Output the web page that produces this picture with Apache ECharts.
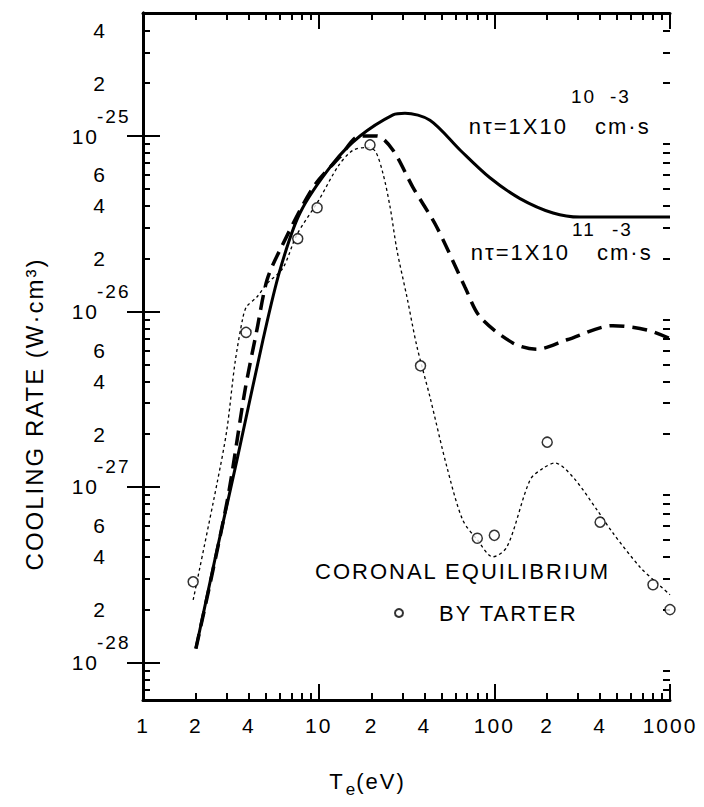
<!DOCTYPE html>
<html>
<head>
<meta charset="utf-8">
<script src="https://cdn.jsdelivr.net/npm/echarts@6/dist/echarts.min.js"></script>
<style>
  html, body { margin: 0; padding: 0; background: #fff; }
  #chart { width: 704px; height: 807px; }
  /* the scanned figure uses widely spaced lettering */
  #chart text { letter-spacing: 2px; }
</style>
</head>
<body>
<div id="chart"></div>
<script>
// cooling rate vs Te (eV, W·cm^3)
var solidTe   = [2, 2.64, 3.43, 4.82, 6.02, 7.83, 12.1, 17.2, 26.5, 31, 43, 64, 94, 140, 216, 307, 1000];
var solidRate = [1.2e-28, 4.4e-28, 1.43e-27, 6.9e-27, 1.72e-26, 3.64e-26, 7.0e-26, 1.0e-25, 1.32e-25, 1.35e-25,
                 1.23e-25, 8.3e-26, 5.8e-26, 4.4e-26, 3.64e-26, 3.45e-26, 3.45e-26];

var dashTe   = [2, 3.0, 3.81, 4.45, 5.08, 6.02, 9.3, 13.2, 17.2, 21.4, 26.5, 34.4, 47, 68, 83, 128, 175, 259, 473, 738, 1000];
var dashRate = [1.2e-28, 8.1e-28, 3.57e-27, 7.85e-27, 1.51e-26, 2.24e-26, 5.1e-26, 7.6e-26, 1.0e-25, 1.0e-25,
                8.3e-26, 5.1e-26, 3.03e-26, 1.38e-26, 9.3e-27, 6.6e-27, 6.1e-27, 6.9e-27, 8.3e-27, 7.85e-27, 7.0e-27];

var dotTe   = [1.93, 2.64, 3.0, 3.34, 3.71, 3.9, 4.45, 5.08, 6.26, 7.5, 10, 13, 15.7, 18.9, 21, 23.2, 25.5, 27.9,
               31.8, 36.3, 43, 53.7, 66, 80, 98, 118, 160, 190, 221, 280, 384, 473, 674, 841, 1000];
var dotRate = [2.27e-28, 1.05e-27, 2.11e-27, 5.1e-27, 9.3e-27, 1.07e-26, 1.21e-26, 1.44e-26, 1.77e-26, 2.73e-26,
               4.3e-26, 6.8e-26, 8.3e-26, 8.6e-26, 8.2e-26, 6.15e-26, 3.94e-26, 2.24e-26, 1.21e-26, 6.28e-27,
               3.26e-27, 1.3e-27, 6.5e-28, 5.0e-28, 4.0e-28, 4.55e-28, 1.1e-27, 1.28e-27, 1.37e-27, 1.14e-27,
               7.4e-28, 5.47e-28, 3.5e-28, 2.84e-28, 2.43e-28];

var tarterTe   = [1.93, 3.86, 7.6, 9.8, 19.6, 38, 80, 100, 200, 400, 800, 1000];
var tarterRate = [2.88e-28, 7.6e-27, 2.6e-26, 3.9e-26, 8.9e-26, 4.9e-27, 5.1e-28, 5.3e-28, 1.8e-27, 6.3e-28, 2.77e-28, 2.0e-28];

// tick labels
var xLabelValues = [1, 2, 4, 10, 20, 40, 100, 200, 400, 1000];
var xLabelTexts  = ['1', '2', '4', '10', '2', '4', '100', '2', '4', '1000'];
var yLabelValues = [1e-28, 2e-28, 4e-28, 6e-28, 1e-27, 2e-27, 4e-27, 6e-27, 1e-26, 2e-26, 4e-26, 6e-26, 1e-25, 2e-25, 4e-25];
var yLabelTexts  = ['10', '2', '4', '6', '10', '2', '4', '6', '10', '2', '4', '6', '10', '2', '4'];
var yExpValues   = [1e-28, 1e-27, 1e-26, 1e-25];
var yExpTexts    = ['-28', '-27', '-26', '-25'];

var FONT = '"Liberation Sans", Arial, sans-serif';
var xMin = 0, xMax = 3;              // log10(Te), 1 .. 1000 eV
var yMin = -28.214, yMax = -24.299;  // log10(rate)

function toLog(xs, ys) {
    return xs.map(function (x, i) { return [Math.log10(x), Math.log10(ys[i])]; });
}

// log positions of 10^n (major) or k*10^n, k=2..9 (minor) inside [lo, hi]
function logTicks(nFrom, nTo, minor, lo, hi) {
    var out = [];
    for (var n = nFrom; n <= nTo; n++) {
        if (!minor) { out.push(n); continue; }
        for (var k = 2; k <= 9; k++) out.push(n + Math.log10(k));
    }
    return out.filter(function (v) { return v > lo + 0.005 && v < hi - 0.01; });
}

function pick(v, values, texts) {
    var best = 0, d = Infinity;
    values.forEach(function (val, i) {
        var dd = Math.abs(Math.log10(val) - v);
        if (dd < d) { d = dd; best = i; }
    });
    return texts[best];
}

var xMajor = [0, 1, 2, 3];
var xMinor = logTicks(0, 2, true, xMin, xMax);
var yMajor = logTicks(-28, -25, false, yMin, yMax);
var yMinor = logTicks(-29, -25, true, yMin, yMax);

var lineBlack = { color: '#000', width: 3 };
var tickStyle = { color: '#000', width: 2 };

function xAx(pos, ticks, len, showLine, label) {
    return {
        type: 'value', position: pos, min: xMin, max: xMax,
        splitLine: { show: false },
        axisLine: { show: showLine, lineStyle: lineBlack },
        axisTick: { show: true, inside: true, length: len, lineStyle: tickStyle, customValues: ticks },
        axisLabel: label || { show: false }
    };
}
function yAx(pos, ticks, len, showLine, label) {
    return {
        type: 'value', position: pos, min: yMin, max: yMax,
        splitLine: { show: false },
        axisLine: { show: showLine, lineStyle: lineBlack },
        axisTick: { show: !!ticks, inside: true, length: len, lineStyle: tickStyle, customValues: ticks || [] },
        axisLabel: label || { show: false }
    };
}

var option = {
    animation: false,
    backgroundColor: '#fff',
    grid: { left: 143, top: 13, right: 34, bottom: 107 },
    xAxis: [
        xAx('bottom', xMajor, 16, true, {
            customValues: xLabelValues.map(Math.log10),
            formatter: function (v) { return pick(v, xLabelValues, xLabelTexts); },
            margin: 15, color: '#000', fontFamily: FONT, fontSize: 21
        }),
        xAx('bottom', xMinor, 7, false),
        xAx('top', xMajor, 16, true),
        xAx('top', xMinor, 7, false)
    ],
    yAxis: [
        yAx('left', yMajor, 17, true, {
            customValues: yLabelValues.map(Math.log10),
            formatter: function (v) {
                var t = pick(v, yLabelValues, yLabelTexts);
                return t === '10' ? '{d|10}' : t;
            },
            margin: 36, align: 'right', color: '#000', fontFamily: FONT, fontSize: 21,
            rich: { d: { color: '#000', fontFamily: FONT, fontSize: 21, padding: [0, 8, 0, 0] } }
        }),
        yAx('left', yMinor, 7, false),
        // exponents of the decade labels, raised above the "10"
        yAx('left', null, 0, false, {
            customValues: yExpValues.map(Math.log10),
            formatter: function (v) { return '{e|' + pick(v, yExpValues, yExpTexts) + '}'; },
            margin: 46, align: 'left',
            rich: { e: { color: '#000', fontFamily: FONT, fontSize: 19, padding: [0, 0, 40, 0] } }
        }),
        yAx('right', yMajor, 16, true),
        yAx('right', yMinor, 7, false)
    ],
    legend: {
        data: [{ name: 'BY TARTER', icon: 'circle' }],
        left: 389, top: 597,
        itemWidth: 8, itemHeight: 8,
        selectedMode: false,
        textStyle: { color: '#000', fontFamily: FONT, fontSize: 22, padding: [0, 0, 0, 31] }
    },
    series: [
        {
            name: 'nτ=1X10^10', type: 'line', data: toLog(solidTe, solidRate),
            showSymbol: false, smooth: 0.3, z: 3,
            lineStyle: { color: '#000', width: 3 }
        },
        {
            name: 'nτ=1X10^11', type: 'line', data: toLog(dashTe, dashRate),
            showSymbol: false, smooth: 0.3, z: 3,
            lineStyle: { color: '#000', width: 3.5, type: [15, 8] }
        },
        {
            name: 'fit', type: 'line', data: toLog(dotTe, dotRate),
            showSymbol: false, smooth: 0.3, z: 3,
            lineStyle: { color: '#000', width: 1.3, type: [3, 3] }
        },
        {
            name: 'BY TARTER', type: 'scatter', data: toLog(tarterTe, tarterRate),
            symbol: 'circle', symbolSize: 10, clip: false, z: 5,
            itemStyle: { color: '#fff', borderColor: '#000', borderWidth: 1.5 }
        }
    ],
    graphic: [
        {
            type: 'text', x: 34, y: 414, rotation: Math.PI / 2,
            style: { text: 'COOLING RATE (W·cm³)', fill: '#000', font: '24px ' + FONT, align: 'center', verticalAlign: 'middle' }
        },
        {
            type: 'text', x: 366, y: 781,
            style: {
                text: '{b|T}{s|e}{c|(eV)}', align: 'center', verticalAlign: 'middle',
                rich: {
                    b: { fill: '#000', fontFamily: FONT, fontSize: 22, padding: [0, 3, 0, 0] },
                    s: { fill: '#000', fontFamily: FONT, fontSize: 17, padding: [16, 4, 0, 0] },
                    c: { fill: '#000', fontFamily: FONT, fontSize: 22 }
                }
            }
        },
        // nτ = 1x10^10 cm^-3·s
        { type: 'text', x: 568, y: 126, style: { text: 'nτ=1X10', fill: '#000', font: '22px ' + FONT, align: 'right', verticalAlign: 'middle' } },
        { type: 'text', x: 571, y: 96, style: { text: '10', fill: '#000', font: '19px ' + FONT, align: 'left', verticalAlign: 'middle' } },
        { type: 'text', x: 595, y: 126, style: { text: 'cm·s', fill: '#000', font: '22px ' + FONT, align: 'left', verticalAlign: 'middle' } },
        { type: 'text', x: 610, y: 96, style: { text: '-3', fill: '#000', font: '19px ' + FONT, align: 'left', verticalAlign: 'middle' } },
        // nτ = 1x10^11 cm^-3·s
        { type: 'text', x: 570, y: 252, style: { text: 'nτ=1X10', fill: '#000', font: '22px ' + FONT, align: 'right', verticalAlign: 'middle' } },
        { type: 'text', x: 572, y: 229, style: { text: '11', fill: '#000', font: '19px ' + FONT, align: 'left', verticalAlign: 'middle' } },
        { type: 'text', x: 597, y: 252, style: { text: 'cm·s', fill: '#000', font: '22px ' + FONT, align: 'left', verticalAlign: 'middle' } },
        { type: 'text', x: 612, y: 229, style: { text: '-3', fill: '#000', font: '19px ' + FONT, align: 'left', verticalAlign: 'middle' } },
        { type: 'text', x: 315, y: 571, style: { text: 'CORONAL EQUILIBRIUM', fill: '#000', font: '22px ' + FONT, align: 'left', verticalAlign: 'middle' } }
    ]
};

var myChart = echarts.init(document.getElementById('chart'), null, { renderer: 'svg' });
myChart.setOption(option);
</script>
</body>
</html>
